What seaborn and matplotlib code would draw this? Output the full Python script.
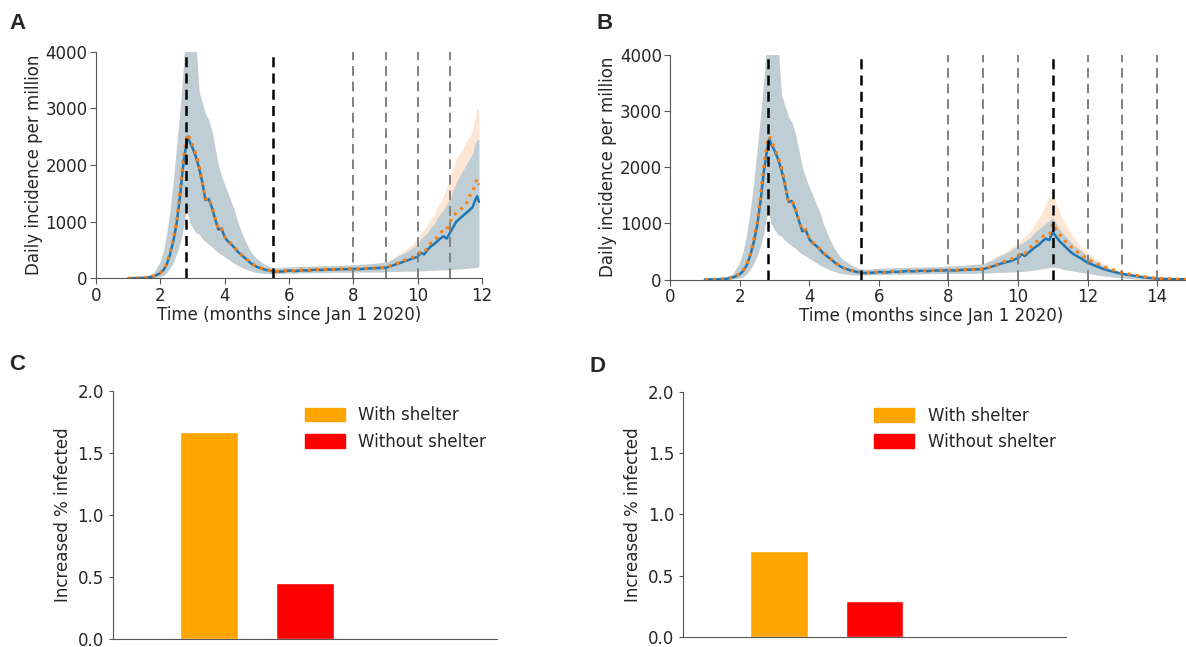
import numpy as np
import pandas as pd
import matplotlib
matplotlib.use("Agg")
import matplotlib.pyplot as plt
import seaborn as sns
from matplotlib.patches import Patch

sns.set_style("ticks")
plt.rcParams['font.family'] = ['DejaVu Sans']

# ===== first wave (shared by panels A and B) =====
t_early = [1.0, 1.2, 1.4, 1.6, 1.8, 2.0, 2.1, 2.2, 2.3, 2.4, 2.5, 2.6, 2.7, 2.8, 2.85, 2.9,
           3.0, 3.1, 3.2, 3.3, 3.4, 3.5, 3.6, 3.7, 3.8, 3.9, 4.0, 4.1, 4.2, 4.3, 4.4, 4.5, 4.6, 4.7, 4.8, 4.9,
           5.0, 5.2, 5.4, 5.6, 5.8, 6.0, 6.2, 6.4, 6.6, 6.8, 7.0, 7.2, 7.4, 7.6, 7.8, 8.0, 8.2, 8.4, 8.6, 8.8, 9.0]
blue_early = [0, 2, 5, 12, 35, 90, 150, 250, 420, 650, 950, 1400, 1950, 2350, 2500, 2420,
              2300, 2150, 1950, 1700, 1380, 1400, 1250, 1050, 860, 880, 720, 650, 600, 540, 470, 420, 370, 320, 270, 230,
              200, 160, 130, 115, 120, 135, 125, 140, 135, 150, 145, 155, 150, 160, 160, 165, 160, 170, 175, 180, 185]
orange_early = [0, 2, 5, 13, 38, 95, 160, 270, 450, 700, 1000, 1500, 2050, 2450, 2550, 2480,
                2350, 2200, 2000, 1720, 1400, 1420, 1270, 1060, 870, 890, 730, 660, 610, 550, 480, 430, 380, 330, 280, 240,
                205, 165, 135, 120, 125, 140, 130, 145, 140, 155, 150, 160, 155, 165, 165, 170, 165, 175, 180, 185, 190]
lo_early = [0, 0, 1, 3, 10, 25, 50, 100, 180, 280, 420, 600, 850, 1200, 1150, 1000,
            900, 800, 780, 700, 650, 600, 560, 500, 450, 420, 380, 340, 300, 260, 230, 200, 170, 150, 130, 110,
            100, 85, 80, 80, 85, 90, 90, 95, 95, 100, 100, 100, 105, 105, 105, 110, 110, 110, 110, 110, 115]
hi_early = [5, 10, 20, 40, 100, 300, 500, 800, 1200, 1700, 2300, 2900, 3600, 4500, 6000, 6000,
            6000, 4200, 3300, 3100, 2900, 2800, 2600, 2300, 2000, 1800, 1650, 1500, 1350, 1200, 1000, 850, 700, 580, 480, 400,
            340, 260, 200, 180, 190, 200, 200, 210, 210, 215, 220, 220, 225, 225, 230, 240, 245, 250, 260, 270, 280]

# ===== panel A: late part (second wave rising) =====
tA_late = [9.2, 9.4, 9.6, 9.8, 10.0, 10.1, 10.2, 10.3, 10.4, 10.5, 10.6, 10.7, 10.8, 10.9,
           11.0, 11.1, 11.2, 11.3, 11.4, 11.5, 11.6, 11.7, 11.8, 11.85, 11.9]
blueA_late = [220, 260, 300, 340, 380, 450, 420, 500, 560, 600, 650, 700, 740, 700,
              800, 900, 1000, 1050, 1100, 1150, 1200, 1250, 1400, 1450, 1350]
orangeA_late = [230, 270, 320, 360, 420, 480, 470, 540, 620, 680, 720, 800, 850, 850,
                1000, 1100, 1150, 1200, 1250, 1300, 1450, 1500, 1700, 1750, 1650]
loA_late = [120, 120, 125, 125, 130, 130, 135, 135, 140, 140, 145, 145, 150, 150,
            150, 155, 160, 165, 170, 175, 180, 185, 190, 200, 200]
hiA_late = [330, 400, 450, 520, 600, 700, 750, 800, 900, 950, 1050, 1150, 1200, 1300,
            1400, 1550, 1700, 1800, 1900, 2000, 2100, 2200, 2400, 2450, 2450]
ohiA_late = [340, 420, 500, 580, 700, 800, 850, 950, 1050, 1100, 1250, 1350, 1450, 1600,
             1800, 1950, 2100, 2200, 2300, 2400, 2500, 2600, 2900, 3000, 2950]

# ===== panel B: late part (second wave peaks at 11) =====
tB_late = [9.2, 9.4, 9.6, 9.8, 10.0, 10.1, 10.2, 10.3, 10.4, 10.5, 10.6, 10.7, 10.8, 10.9,
           11.0, 11.1, 11.2, 11.3, 11.4, 11.5, 11.6, 11.8, 12.0, 12.2, 12.4, 12.6, 12.8,
           13.0, 13.3, 13.6, 14.0, 14.5, 15.0]
blueB_late = [220, 260, 300, 330, 380, 450, 420, 480, 530, 580, 620, 680, 730, 700,
              850, 760, 680, 620, 560, 500, 450, 380, 300, 250, 200, 160, 130,
              100, 70, 40, 15, 5, 2]
orangeB_late = [230, 270, 320, 360, 420, 480, 460, 540, 600, 660, 700, 760, 800, 800,
                1000, 880, 800, 720, 650, 600, 540, 450, 360, 300, 250, 200, 160,
                120, 85, 50, 20, 8, 3]
loB_late = [120, 125, 130, 135, 140, 145, 150, 155, 160, 170, 180, 190, 200, 210,
            220, 210, 200, 180, 170, 160, 150, 130, 110, 90, 70, 55, 40,
            30, 15, 8, 3, 1, 0]
hiB_late = [330, 400, 450, 520, 600, 650, 680, 720, 780, 850, 900, 950, 1000, 1050,
            1100, 1000, 900, 820, 750, 680, 620, 520, 420, 330, 260, 200, 160,
            120, 80, 50, 25, 10, 5]
ohiB_late = [340, 420, 480, 560, 650, 720, 760, 820, 900, 1000, 1100, 1200, 1350, 1450,
             1500, 1350, 1200, 1050, 950, 850, 750, 600, 480, 380, 300, 230, 180,
             140, 100, 60, 30, 12, 6]

# vertical markers
blackA = [2.8, 5.5]
grayA = [8, 9, 10, 11]
blackB = [2.8, 5.5, 11]
grayB = [8, 9, 10, 12, 13, 14]

# ===== bar panels =====
bar_labels = ['With shelter', 'Without shelter']
bar_colors = ['#FFA500', '#FF0000']
valsC = [1.67, 0.45]
valsD = [0.70, 0.29]

BAND = '#bfcdd4'
PEACH = '#fde6d3'
BLUE = '#1f77b4'
ORANGE = '#ff7f0e'
SPINE = '#555555'


def make_df(t_late, blue_late, orange_late, lo_late, hi_late, ohi_late):
    df = pd.DataFrame({
        't': t_early + t_late,
        'blue': blue_early + blue_late,
        'orange': orange_early + orange_late,
        'lo': lo_early + lo_late,
        'hi': hi_early + hi_late,
        'ohi': hi_early + ohi_late,
    })
    return df


def draw_line_panel(ax, df, blacks, grays, xmax):
    ax.fill_between(df['t'], df['lo'], df['ohi'], color=PEACH, lw=0)
    ax.fill_between(df['t'], df['lo'], df['hi'], color=BAND, lw=0)
    sns.lineplot(data=df, x='t', y='blue', ax=ax, color=BLUE, lw=1.8)
    sns.lineplot(data=df, x='t', y='orange', ax=ax, color=ORANGE, lw=2.2, linestyle=':')
    for x in blacks:
        ax.axvline(x, color='black', lw=1.8, dashes=(4, 2.5))
    for x in grays:
        ax.axvline(x, color='#808080', lw=1.4, dashes=(5, 3))
    ax.set_xlim(0, xmax)
    ax.set_ylim(0, 4000)
    ax.set_yticks([0, 1000, 2000, 3000, 4000])
    ax.set_xlabel('Time (months since Jan 1 2020)', fontsize=12, labelpad=1)
    ax.set_ylabel('Daily incidence per million', fontsize=12, labelpad=2)
    ax.tick_params(labelsize=12, length=4, color=SPINE, pad=2)
    for s in ['left', 'bottom']:
        ax.spines[s].set_color(SPINE)
    sns.despine(ax=ax)


def draw_bar_panel(ax, vals):
    sns.barplot(x=bar_labels, y=vals, hue=bar_labels, palette=bar_colors,
                width=0.6, ax=ax, legend=False, saturation=1)
    ax.set_xlim(-1, 3)
    ax.set_ylim(0, 2.0)
    ax.set_yticks([0, 0.5, 1.0, 1.5, 2.0])
    ax.set_xticks([])
    ax.set_ylabel('Increased % infected', fontsize=12)
    ax.tick_params(labelsize=12, length=3, color=SPINE)
    for s in ['left', 'bottom']:
        ax.spines[s].set_color(SPINE)
    sns.despine(ax=ax)
    handles = [Patch(color=c, label=l) for c, l in zip(bar_colors, bar_labels)]
    ax.legend(handles=handles, loc='upper left', bbox_to_anchor=(0.46, 1.0),
              frameon=False, fontsize=12, handlelength=2.4, handleheight=0.9)


fig = plt.figure(figsize=(11.86, 6.47), dpi=100)

axA = fig.add_axes([0.081, 0.570, 0.3255, 0.350])
axB = fig.add_axes([0.565, 0.568, 0.440, 0.347])
axC = fig.add_axes([0.0953, 0.0124, 0.324, 0.383])
axD = fig.add_axes([0.576, 0.0155, 0.323, 0.379])

draw_line_panel(axA, make_df(tA_late, blueA_late, orangeA_late, loA_late, hiA_late, ohiA_late),
                blackA, grayA, 12)
draw_line_panel(axB, make_df(tB_late, blueB_late, orangeB_late, loB_late, hiB_late, ohiB_late),
                blackB, grayB, 15)
axB.set_xticks([0, 2, 4, 6, 8, 10, 12, 14])

draw_bar_panel(axC, valsC)
draw_bar_panel(axD, valsD)

# panel letters
for x, y, s in [(0.008, 0.955, 'A'), (0.503, 0.955, 'B'), (0.008, 0.428, 'C'), (0.497, 0.425, 'D')]:
    fig.text(x, y, s, fontsize=16, fontweight='bold', family='Liberation Sans')

plt.savefig('out.png', dpi=100)
